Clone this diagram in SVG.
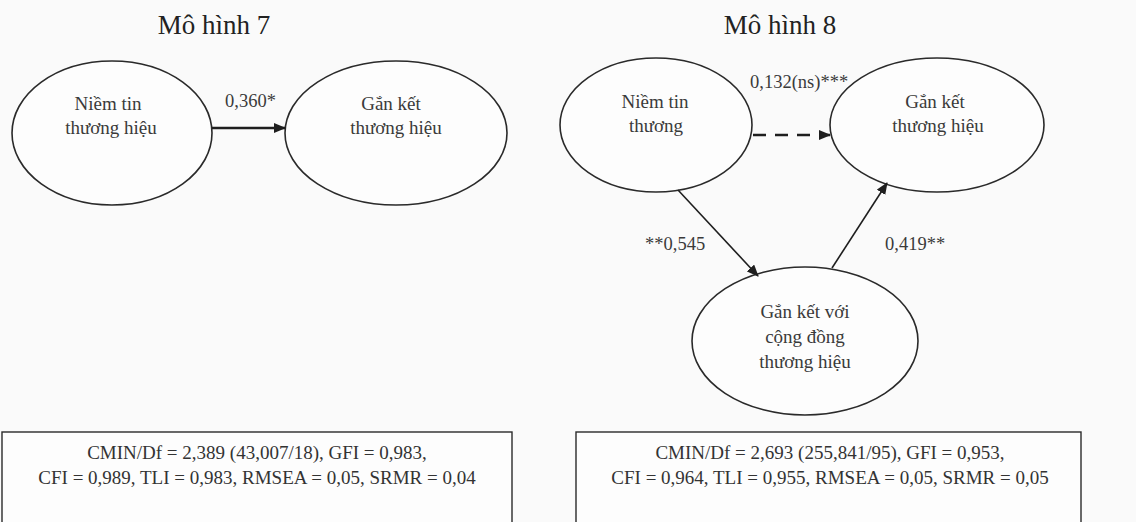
<svg xmlns="http://www.w3.org/2000/svg" width="1136" height="522" viewBox="0 0 1136 522">
<defs>
<marker id="ah" markerWidth="12" markerHeight="10" refX="11" refY="5" orient="auto" markerUnits="userSpaceOnUse">
<path d="M0,0 L12,5 L0,10 Z" fill="#1e1e1e"/>
</marker>
<style>
.n{fill:#fdfdfd;stroke:#2a2a2a;stroke-width:1.6}
.t{font-family:"Liberation Serif",serif;font-size:19px;fill:#3a3a3a;text-anchor:middle}
.h{font-family:"Liberation Serif",serif;font-size:27px;fill:#222;text-anchor:middle}
.l{font-family:"Liberation Serif",serif;font-size:18.5px;fill:#3a3a3a}
.c{stroke:#1e1e1e;stroke-width:1.6;fill:none}
.w{stroke-width:2.4}
.b{fill:#fdfdfd;stroke:#2a2a2a;stroke-width:1.4}
.s{font-family:"Liberation Serif",serif;font-size:19px;fill:#333;text-anchor:middle}
</style>
</defs>
<rect width="1136" height="522" fill="#fafafa"/>
<text class="h" x="214" y="34">Mô hình 7</text>
<text class="h" x="780" y="34">Mô hình 8</text>
<g id="m7-niem-tin">
<ellipse class="n" cx="112" cy="133" rx="100" ry="72"/>
<text class="t" x="108" y="110">Niềm tin</text>
<text class="t" x="111" y="134">thương hiệu</text>
</g>
<g id="m7-gan-ket">
<ellipse class="n" cx="396" cy="133" rx="111" ry="72"/>
<text class="t" x="391" y="110">Gắn kết</text>
<text class="t" x="396" y="134">thương hiệu</text>
</g>
<g id="m8-niem-tin">
<ellipse class="n" cx="656" cy="125" rx="96" ry="67"/>
<text class="t" x="655" y="108">Niềm tin</text>
<text class="t" x="656" y="132">thương</text>
</g>
<g id="m8-gan-ket">
<ellipse class="n" cx="937" cy="125" rx="107" ry="67"/>
<text class="t" x="935" y="108">Gắn kết</text>
<text class="t" x="938" y="132">thương hiệu</text>
</g>
<g id="m8-cong-dong">
<ellipse class="n" cx="805" cy="341" rx="113" ry="74"/>
<text class="t" x="805" y="318">Gắn kết với</text>
<text class="t" x="805" y="343">cộng đồng</text>
<text class="t" x="805" y="368">thương hiệu</text>
</g>
<g id="connectors">
<line class="c w" x1="212" y1="128" x2="285" y2="128" marker-end="url(#ah)"/>
<line class="c w" x1="753" y1="135" x2="830" y2="135" stroke-dasharray="13,9" marker-end="url(#ah)"/>
<line class="c" x1="678" y1="190" x2="758" y2="276" marker-end="url(#ah)"/>
<line class="c" x1="832" y1="268" x2="887" y2="183" marker-end="url(#ah)"/>
<text class="l" x="225" y="107">0,360*</text>
<text class="l" x="750" y="88">0,132(ns)***</text>
<text class="l" x="645" y="250">**0,545</text>
<text class="l" x="885" y="250">0,419**</text>
</g>
<g id="fit-7">
<rect class="b" x="2" y="432" width="510" height="100"/>
<text class="s" x="257" y="459">CMIN/Df = 2,389 (43,007/18), GFI = 0,983,</text>
<text class="s" x="257" y="484">CFI = 0,989, TLI = 0,983, RMSEA = 0,05, SRMR = 0,04</text>
</g>
<g id="fit-8">
<rect class="b" x="576" y="432" width="505" height="100"/>
<text class="s" x="830" y="459">CMIN/Df = 2,693 (255,841/95), GFI = 0,953,</text>
<text class="s" x="830" y="484">CFI = 0,964, TLI = 0,955, RMSEA = 0,05, SRMR = 0,05</text>
</g>
</svg>
